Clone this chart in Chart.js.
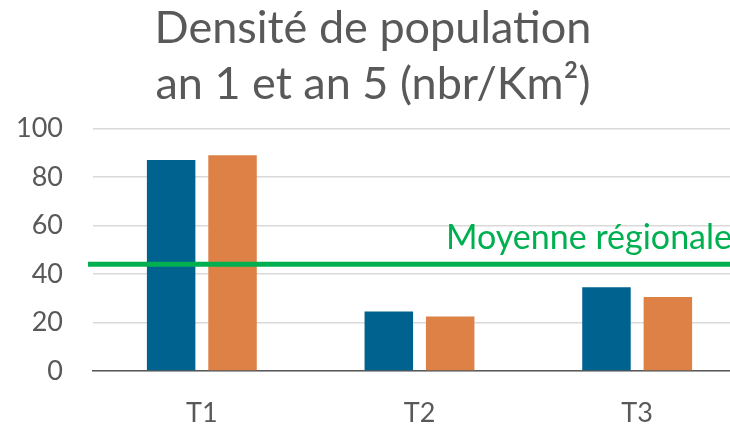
<!DOCTYPE html>
<html>
<head>
<meta charset="utf-8">
<script src="https://cdn.jsdelivr.net/npm/chart.js@4"></script>
<style>
  html, body { margin: 0; padding: 0; background: #fff; overflow: hidden; }
  #wrap { width: 746px; height: 427px; }
</style>
</head>
<body>
<div id="wrap"><canvas id="chart" width="746" height="427"></canvas></div>
<script>
const categories = ['T1', 'T2', 'T3'];
const an1Values = [87, 24.5, 34.5];
const an5Values = [89, 22.5, 30.5];
const yTicks = [0, 20, 40, 60, 80, 100];
const averageValue = 44;
const averageLabel = 'Moyenne régionale';
const titleLines = ['Densité de population', 'an 1 et an 5 (nbr/Km²)'];

// horizontal regional average line, drawn through the y scale
const averageLine = {
  id: 'averageLine',
  afterDatasetsDraw(chart) {
    const { ctx, chartArea, scales } = chart;
    const y = scales.y.getPixelForValue(averageValue);
    ctx.save();
    ctx.strokeStyle = '#00B050';
    ctx.lineWidth = 5;
    ctx.beginPath();
    ctx.moveTo(chartArea.left - 5, y);
    ctx.lineTo(chart.width, y);
    ctx.stroke();
    ctx.fillStyle = '#00B050';
    ctx.font = '34px Lato';
    ctx.textBaseline = 'alphabetic';
    ctx.fillText(averageLabel, chartArea.left + 353, y - 15);
    ctx.restore();
  }
};

new Chart(document.getElementById('chart'), {
  type: 'bar',
  data: {
    labels: categories,
    datasets: [
      { label: 'an 1', data: an1Values, backgroundColor: '#00628F', categoryPercentage: 0.564, barPercentage: 0.79 },
      { label: 'an 5', data: an5Values, backgroundColor: '#DE8147', categoryPercentage: 0.564, barPercentage: 0.79 }
    ]
  },
  options: {
    responsive: false,
    animation: false,
    layout: { padding: 0 },
    plugins: {
      legend: { display: false },
      tooltip: { enabled: false },
      title: {
        display: true,
        text: titleLines,
        color: '#595959',
        font: { family: 'Lato', size: 45, weight: 'normal', lineHeight: 1.25 },
        padding: { top: 0, bottom: 16 }
      }
    },
    scales: {
      x: {
        grid: { display: false },
        border: { display: true, color: '#595959', width: 1.5 },
        ticks: { color: '#595959', font: { family: 'Lato', size: 27 }, padding: 18 },
        afterFit(axis) { axis.height = 56; }
      },
      y: {
        min: 0,
        max: 100,
        afterBuildTicks(axis) { axis.ticks = yTicks.map(v => ({ value: v })); },
        grid: { color: '#D9D9D9', lineWidth: 1.5, drawTicks: false },
        border: { display: false },
        ticks: { color: '#595959', font: { family: 'Lato', size: 27 }, padding: 30 },
        afterFit(axis) { axis.width = 93; }
      }
    }
  },
  plugins: [averageLine]
});
</script>
</body>
</html>
